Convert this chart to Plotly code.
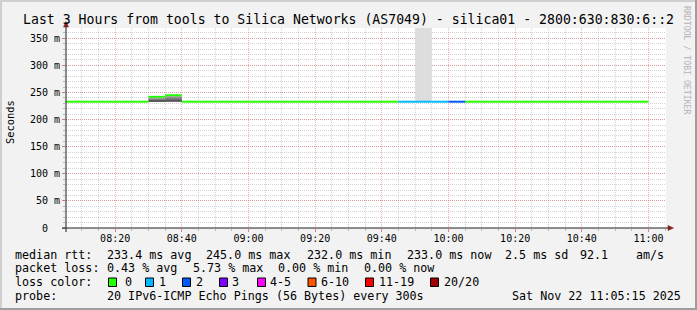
import plotly.graph_objects as go
import pandas as pd

# ---------------- data ----------------
step_end = ["08:10", "08:15", "08:20", "08:25", "08:30", "08:35", "08:40", "08:45",
            "08:50", "08:55", "09:00", "09:05", "09:10", "09:15", "09:20", "09:25",
            "09:30", "09:35", "09:40", "09:45", "09:50", "09:55", "10:00", "10:05",
            "10:10", "10:15", "10:20", "10:25", "10:30", "10:35", "10:40", "10:45",
            "10:50", "10:55", "11:00"]
median_ms = [233, 233, 233, 233, 233, 242, 245, 233,
             233, 233, 233, 233, 233, 233, 233, 233,
             233, 233, 233, 233, 233, 233, 233, 233,
             233, 233, 233, 233, 233, 233, 233, 233,
             233, 233, 233]
loss_pings = [0, 0, 0, 0, 0, 0, 0, 0,
              0, 0, 0, 0, 0, 0, 0, 0,
              0, 0, 0, 0, 1, 1, 1, 2,
              0, 0, 0, 0, 0, 0, 0, 0,
              0, 0, 0]

# smoke (ping spread) layers: step end, layer level, low, high (ms)
smoke_step = ["08:35", "08:35", "08:35", "08:40", "08:40", "08:40", "09:55"]
smoke_level = [1, 2, 3, 1, 2, 3, 0]
smoke_low = [233, 233, 233, 233, 233, 233, 234]
smoke_high = [241, 238.5, 236, 244, 241, 237, 1000]

loss_labels = ["0", "1", "2", "3", "4-5", "6-10", "11-19", "20/20"]
loss_colors = ["#26ff00", "#00b8ff", "#0059ff", "#7e00ff", "#ff00ff", "#ff5500", "#ff0000", "#a00000"]

y_ticks = [0, 50, 100, 150, 200, 250, 300, 350]
y_ticktext = ["0\u00a0\u00a0", "50 m", "100 m", "150 m", "200 m", "250 m", "300 m", "350 m"]

title_text = "Last 3 Hours from tools to Silica Networks (AS7049) - silica01 - 2800:630:830:6::2"
row1 = [("median rtt:", 15.6), ("233.4 ms avg", 107.6), ("245.0 ms max", 207.1),
        ("232.0 ms min", 307.6), ("233.0 ms now", 408.0), ("2.5 ms sd", 506.0),
        ("92.1", 581.0), ("am/s", 637.0)]
row2 = [("packet loss:", 15.6), ("0.43 % avg", 107.6), ("5.73 % max", 193.3),
        ("0.00 % min", 279.0), ("0.00 % now", 365.0)]
probe_text = "20 IPv6-ICMP Echo Pings (56 Bytes) every 300s"
date_text = "Sat Nov 22 11:05:15 2025"

DAY = "2025-11-22 "
STEP = pd.Timedelta(minutes=5)

# ---------------- geometry helpers ----------------
L, T, W, H = 66, 28, 600, 200
def px(x):
    return (x - L) / W
def py(y):
    return (T + H - y) / H

MONO = "DejaVu Sans Mono"
smoke_greys = {0: "#dddddd", 1: "#a8a8a8", 2: "#808080", 3: "#5a5a5a"}

fig = go.Figure()

# smoke
for lvl in sorted(set(smoke_level)):
    xs, ys, bs = [], [], []
    for s, l, lo, hi in zip(smoke_step, smoke_level, smoke_low, smoke_high):
        if l != lvl:
            continue
        end = pd.Timestamp(DAY + s)
        xs.append(end - STEP / 2)
        bs.append(lo)
        ys.append(hi - lo)
    fig.add_trace(go.Bar(x=xs, y=ys, base=bs, width=STEP.total_seconds() * 1000,
                         marker=dict(color=smoke_greys[lvl], line=dict(width=0)),
                         hoverinfo="skip"))

# median line segments, coloured by loss
def loss_index(n):
    if n <= 3:
        return n
    if n <= 5:
        return 4
    if n <= 10:
        return 5
    if n <= 19:
        return 6
    return 7

for ci, col in enumerate(loss_colors):
    xs, ys = [], []
    for s, m, lp in zip(step_end, median_ms, loss_pings):
        if loss_index(lp) != ci:
            continue
        end = pd.Timestamp(DAY + s)
        xs += [end - STEP, end, None]
        ys += [m, m, None]
    if xs:
        fig.add_trace(go.Scatter(x=xs, y=ys, mode="lines",
                                 line=dict(color=col, width=2), hoverinfo="skip"))

GRID = "rgba(143,143,143,0.38)"
MGRID = "rgba(222,79,79,0.42)"
TICKG = "rgba(143,143,143,0.6)"
TICKM = "rgba(222,79,79,0.7)"

fig.update_xaxes(
    type="date",
    range=[DAY + "08:05:15", DAY + "11:05:15"],
    tick0=DAY + "08:00", dtick=20 * 60 * 1000, tickformat="%H:%M",
    showgrid=True, gridcolor=MGRID, griddash="1px,1px", gridwidth=1,
    ticks="outside", ticklen=3, tickcolor=TICKM,
    tickfont=dict(family=MONO, size=10, color="#000000"),
    ticklabelstandoff=-2,
    minor=dict(tick0=DAY + "08:00", dtick=5 * 60 * 1000, showgrid=True,
               gridcolor=GRID, griddash="1px,1px", gridwidth=1,
               ticks="outside", ticklen=2, tickcolor=TICKG),
    showline=False, zeroline=False, fixedrange=True,
)
fig.update_yaxes(
    range=[0, 369],
    tickmode="array", tickvals=y_ticks, ticktext=y_ticktext,
    showgrid=True, gridcolor=MGRID, griddash="1px,1px", gridwidth=1,
    ticks="outside", ticklen=3, tickcolor=TICKM,
    tickfont=dict(family=MONO, size=10, color="#000000"),
    minor=dict(tickmode="linear", tick0=0, dtick=10, showgrid=True,
               gridcolor=GRID, griddash="1px,1px", gridwidth=1,
               ticks="outside", ticklen=2, tickcolor=TICKG),
    showline=False, zeroline=False, fixedrange=True,
)

shapes = []
AXIS = "#1f1f1f"
ARROW = "#801f1f"
# axis lines
shapes.append(dict(type="line", xref="paper", yref="paper", x0=px(62), x1=px(669),
                   y0=py(228), y1=py(228), line=dict(color=AXIS, width=1)))
shapes.append(dict(type="line", xref="paper", yref="paper", x0=px(66), x1=px(66),
                   y0=py(232), y1=py(25), line=dict(color=AXIS, width=1)))
# arrows
shapes.append(dict(type="path", xref="paper", yref="paper",
                   path=f"M {px(668)} {py(225.5)} L {px(673.5)} {py(228)} L {px(668)} {py(230.5)} Z",
                   fillcolor=ARROW, line=dict(color=ARROW, width=0.5)))
shapes.append(dict(type="path", xref="paper", yref="paper",
                   path=f"M {px(63.5)} {py(27)} L {px(66)} {py(21.5)} L {px(68.5)} {py(27)} Z",
                   fillcolor=ARROW, line=dict(color=ARROW, width=0.5)))
# frame (3D border)
shapes.append(dict(type="rect", xref="paper", yref="paper", x0=px(0), x1=px(697),
                   y0=py(0), y1=py(2), fillcolor="#cfcfcf", line=dict(width=0)))
shapes.append(dict(type="rect", xref="paper", yref="paper", x0=px(0), x1=px(2),
                   y0=py(0), y1=py(310), fillcolor="#cfcfcf", line=dict(width=0)))
shapes.append(dict(type="rect", xref="paper", yref="paper", x0=px(695), x1=px(697),
                   y0=py(0), y1=py(310), fillcolor="#9e9e9e", line=dict(width=0)))
shapes.append(dict(type="rect", xref="paper", yref="paper", x0=px(0), x1=px(697),
                   y0=py(308), y1=py(310), fillcolor="#9e9e9e", line=dict(width=0)))

ann = []
def text(t, x, y, size=11.7, anchor="left", color="#000000", angle=0, family=MONO):
    ann.append(dict(text=t, x=px(x), y=py(y), xref="paper", yref="paper",
                    xanchor=anchor, yanchor="middle", showarrow=False,
                    textangle=angle, borderpad=0, borderwidth=0,
                    font=dict(family=family, size=size, color=color)))

text(title_text, 348.5, 19, size=13.2, anchor="center")
text("Seconds", 10, 122, size=10.4, anchor="center", angle=-90)
text("RRDTOOL / TOBI OETIKER", 687, 60, size=8.2, anchor="center", angle=90, color="#b4b4b4")

R1, R2, R3, R4 = 254.5, 268.3, 282.3, 296.0
for t, x in row1:
    text(t, x - 0.8, R1)
for t, x in row2:
    text(t, x - 0.8, R2)
text("loss color:", 15.6 - 0.8, R3)
box_x = [108, 145, 182, 219, 257, 307.5, 365, 430]
lab_x = [125.8, 160, 197, 233, 271, 321.8, 380, 445]
for lbl, col, bx, lx in zip(loss_labels, loss_colors, box_x, lab_x):
    shapes.append(dict(type="rect", xref="paper", yref="paper",
                       x0=px(bx + 0.5), x1=px(bx + 8.5), y0=py(278), y1=py(286.5),
                       fillcolor=col, line=dict(color="#000000", width=1)))
    text(lbl, lx - 0.8, R3)
text("probe:", 15.6 - 0.8, R4)
text(probe_text, 107.6 - 0.8, R4)
text(date_text, 681, R4, anchor="right")

fig.update_layout(
    width=697, height=310,
    margin=dict(l=L, r=697 - L - W, t=T, b=310 - T - H, pad=0),
    paper_bgcolor="#f2f2f2", plot_bgcolor="#ffffff",
    showlegend=False, barmode="overlay",
    shapes=shapes, annotations=ann,
)

fig.write_html("out.html", config={"displayModeBar": False})
